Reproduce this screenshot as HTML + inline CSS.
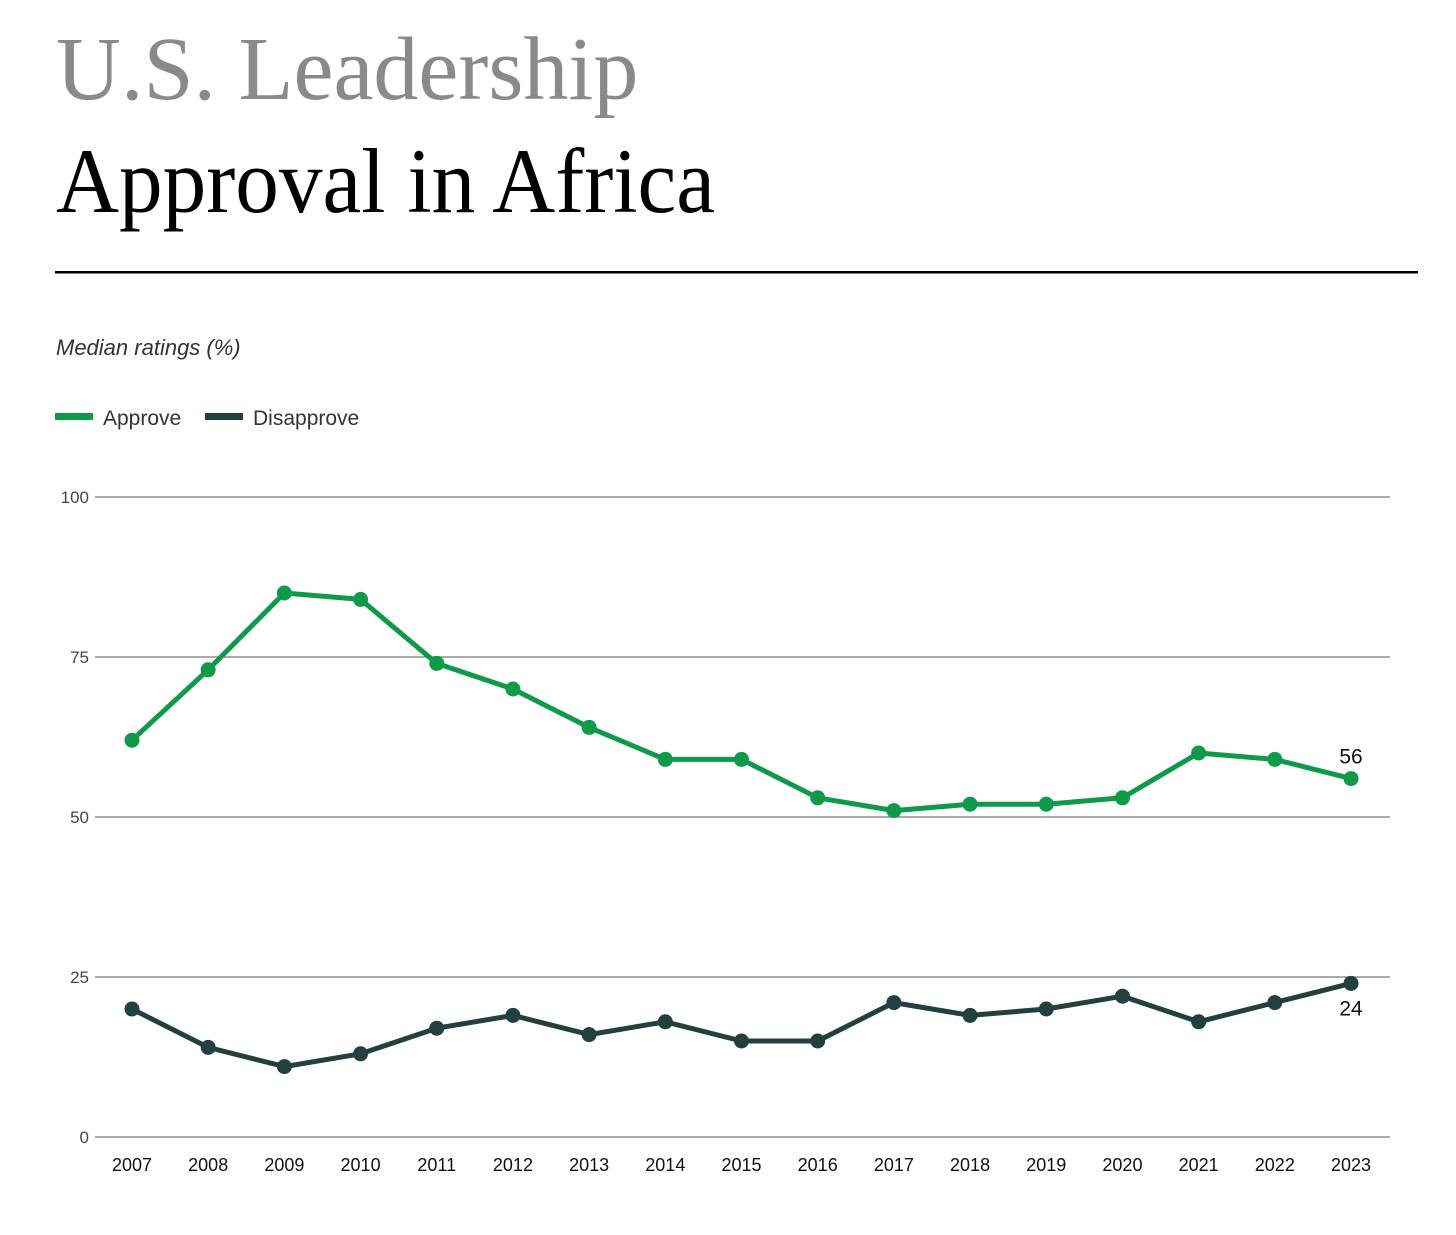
<!DOCTYPE html>
<html><head><meta charset="utf-8"><style>
body{margin:0;background:#fff;width:1456px;height:1230px;overflow:hidden;font-family:"Liberation Sans",sans-serif}
</style></head><body>
<svg width="1456" height="1230">
<text x="56" y="99" font-family="Liberation Serif,serif" font-size="90" fill="#888a8c">U.S. Leadership</text>
<text x="56" y="212" font-family="Liberation Serif,serif" font-size="92" textLength="659" lengthAdjust="spacingAndGlyphs" fill="#000">Approval in Africa</text>
<rect x="55" y="271" width="1363" height="2.5" fill="#000"/>
<text x="56" y="355" font-size="22" font-style="italic" fill="#333">Median ratings (%)</text>
<g>
<rect x="55" y="413" width="38" height="7" fill="#0f9a4a"/>
<text x="103" y="425" font-size="21" fill="#333">Approve</text>
<rect x="205" y="413" width="38" height="7" fill="#234040"/>
<text x="253" y="425" font-size="21" fill="#333">Disapprove</text>
</g>
<g id="plot"></g>
</svg>
<script>
const years=[2007,2008,2009,2010,2011,2012,2013,2014,2015,2016,2017,2018,2019,2020,2021,2022,2023];
const approve=[62,73,85,84,74,70,64,59,59,53,51,52,52,53,60,59,56];
const disapprove=[20,14,11,13,17,19,16,18,15,15,21,19,20,22,18,21,24];
const yTicks=[0,25,50,75,100];
const NS="http://www.w3.org/2000/svg";
const g=document.getElementById('plot');
const x=i=>132+i*(1351-132)/(years.length-1);
const y=v=>1137-v*6.4;
function mk(t,a,p){const e=document.createElementNS(NS,t);for(const k in a)e.setAttribute(k,a[k]);(p||g).appendChild(e);return e;}
yTicks.forEach(t=>{
 const l=mk('line',{x1:95,x2:1390,y1:y(t),y2:y(t),stroke:'#777',"stroke-width":1.2});
 
 
 const tx=mk('text',{x:89,y:y(t)+6,"text-anchor":"end","font-size":17,fill:'#444'});tx.textContent=t;
 
 
});
years.forEach((yr,i)=>{
 const tx=mk('text',{x:x(i),y:1171,"text-anchor":"middle","font-size":18,fill:'#111'});tx.textContent=yr;
 
 
});
function series(vals,color,name){
 const p=mk('polyline',{points:vals.map((v,i)=>x(i)+','+y(v)).join(' '),fill:'none',stroke:color,"stroke-width":5,"stroke-linejoin":"round"});
 
 
 vals.forEach((v,i)=>{
  const c=mk('circle',{cx:x(i),cy:y(v),r:7.5,fill:color});
  
  
 });
}
series(approve,'#0f9a4a','approve');
series(disapprove,'#234040','disapprove');
const n=years.length-1;
const la=mk('text',{x:x(n),y:y(approve[n])-15,"text-anchor":"middle","font-size":21,fill:'#111'});la.textContent=approve[n];


const ld=mk('text',{x:x(n),y:y(disapprove[n])+32,"text-anchor":"middle","font-size":21,fill:'#111'});ld.textContent=disapprove[n];


</script>
</body></html>
